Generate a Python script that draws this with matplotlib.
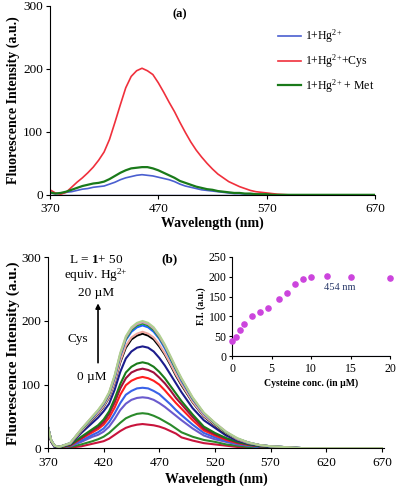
import matplotlib
matplotlib.use("Agg")
import matplotlib.pyplot as plt

plt.rcParams['font.family'] = ['Liberation Serif', 'DejaVu Serif']
plt.rcParams['mathtext.fontset'] = 'custom'
plt.rcParams['mathtext.rm'] = 'Liberation Serif'
plt.rcParams['mathtext.bf'] = 'Liberation Serif:bold'
plt.rcParams['mathtext.it'] = 'Liberation Serif:italic'

# ---- panel (a) data ----
wl_a = list(range(370, 585, 5)) + [590, 600, 620, 670]
hg = [3, 2, 2, 4, 5, 7, 9, 10, 12, 13,
      14, 17, 20, 24, 27, 29, 31, 32, 31, 30,
      28, 26, 24, 21, 17, 14, 12, 10, 8, 7,
      6, 5, 4, 3, 2, 2, 1, 1, 1, 0,
      0, 0, 0, 0, 0, 0, 0]
hg_cys = [8, 3, 1, 4, 12, 20, 27, 35, 44, 55,
          68, 88, 115, 143, 170, 188, 197, 201, 197, 191,
          178, 163, 147, 132, 115, 99, 84, 71, 60, 50,
          41, 33, 27, 21, 17, 13, 10, 7, 5, 4,
          3, 2, 1, 0, 0, 0, 0]
hg_met = [4, 2, 3, 5, 8, 11, 14, 16, 18, 19,
          21, 25, 30, 35, 39, 42, 43, 44, 44, 42,
          39, 35, 31, 27, 22, 19, 16, 13, 11, 9,
          8, 6, 5, 4, 3, 3, 2, 2, 1, 1,
          1, 0, 0, 0, 0, 0, 0]
labels_a = ['1+Hg$^{2{+}}$', '1+Hg$^{2{+}}$+Cys', '1+Hg$^{2{+}}$ + Met']
colors_a = ['#4a5fd0', '#f0303c', '#1a7a1a']

# ---- panel (b) data: titration spectra, 0 -> 20 uM Cys ----
wl_b = [370, 373, 376, 380, 390, 400, 410, 415, 420, 425, 430, 435, 440, 445,
        450, 455, 460, 465, 470, 475, 480, 485, 490, 500, 510, 520, 530, 540,
        550, 560, 570, 580, 600, 670]
spectra_b = [
    [30, 10, 2, 0, 1, 3, 7, 9, 11, 15, 21, 27, 32, 35, 37, 38, 37, 36, 34, 31, 27, 23, 17,
     12, 8, 6, 4, 2, 1, 1, 0, 0, 0, 0],
    [31, 10, 2, 0, 2, 6, 11, 14, 18, 24, 32, 40, 47, 51, 54, 55, 54, 51, 47, 42, 37, 31, 25,
     18, 13, 10, 6, 4, 2, 1, 1, 0, 0, 0],
    [31, 10, 2, 0, 3, 10, 18, 21, 26, 34, 46, 60, 70, 76, 79, 80, 79, 76, 71, 65, 58, 51, 44,
     31, 20, 14, 10, 6, 4, 2, 1, 1, 0, 0],
    [32, 11, 2, 1, 4, 12, 21, 25, 31, 41, 55, 71, 84, 90, 94, 95, 94, 90, 85, 77, 69, 60, 52,
     37, 24, 17, 11, 7, 4, 2, 1, 1, 0, 0],
    [32, 11, 3, 1, 4, 15, 25, 30, 37, 48, 64, 84, 99, 106, 110, 112, 110, 106, 100, 91, 81, 71, 62,
     44, 28, 20, 13, 8, 5, 3, 2, 1, 0, 0],
    [33, 11, 3, 1, 5, 16, 28, 33, 41, 54, 72, 94, 110, 119, 123, 125, 123, 119, 111, 102, 91, 79, 69,
     49, 31, 22, 15, 9, 6, 3, 2, 1, 0, 0],
    [33, 11, 3, 1, 5, 18, 30, 36, 45, 58, 78, 101, 119, 128, 133, 135, 133, 128, 120, 110, 98, 86, 74,
     53, 34, 24, 16, 10, 6, 3, 2, 1, 0, 0],
    [33, 12, 3, 2, 6, 24, 40, 48, 58, 70, 92, 120, 141, 152, 158, 160, 158, 152, 142, 130, 116, 102, 88,
     63, 44, 32, 20, 12, 7, 4, 2, 2, 0, 0],
    [34, 12, 4, 2, 7, 27, 45, 54, 65, 80, 104, 135, 158, 171, 177, 180, 177, 171, 160, 147, 131, 114, 99,
     72, 50, 36, 23, 14, 8, 5, 3, 2, 0, 0],
    [34, 12, 4, 2, 7, 27, 46, 55, 66, 81, 105, 137, 161, 174, 180, 183, 180, 174, 163, 149, 133, 116, 101,
     73, 51, 37, 24, 14, 8, 5, 3, 2, 0, 0],
    [34, 12, 4, 2, 8, 29, 48, 58, 69, 85, 111, 145, 170, 183, 190, 193, 190, 183, 172, 157, 140, 123, 106,
     77, 54, 39, 25, 15, 9, 5, 3, 2, 0, 0],
    [34, 12, 4, 2, 8, 29, 49, 59, 70, 86, 113, 147, 172, 186, 193, 196, 193, 186, 174, 160, 142, 124, 108,
     78, 55, 39, 25, 15, 9, 5, 3, 2, 0, 0],
    [34, 12, 4, 2, 8, 30, 50, 59, 71, 87, 114, 148, 174, 188, 195, 198, 195, 188, 176, 161, 144, 126, 109,
     79, 55, 40, 26, 15, 9, 5, 3, 2, 0, 0],
    [34, 12, 4, 2, 8, 30, 50, 60, 72, 88, 115, 150, 176, 190, 197, 200, 197, 190, 178, 163, 145, 127, 110,
     80, 56, 40, 26, 16, 9, 5, 3, 2, 0, 0],
]
colors_b = ['#c8143c', '#2a8a2a', '#6a5acd', '#3a62e8', '#ff1e1e', '#a0103c',
            '#1a7a1a', '#1c1c8c', '#000000', '#f0a8a0', '#2060ff', '#20a020',
            '#d890c8', '#b0d090']

# ---- inset data ----
cys_conc = [0, 0.5, 1, 1.5, 2.5, 3.5, 4.5, 6, 7, 8, 9, 10, 12, 15, 20]
fi_454 = [37, 48, 66, 80, 101, 110, 122, 144, 160, 182, 195, 199, 201, 200, 197]

fig = plt.figure(figsize=(3.96, 4.92), dpi=100)

def style(ax, size=9.5):
    ax.spines['top'].set_visible(False)
    ax.spines['right'].set_visible(False)
    ax.tick_params(direction='out', length=3, width=0.8, labelsize=size, pad=2)
    ax.tick_params(axis='x', pad=3)

# panel (a)
ax1 = fig.add_axes([0.126, 0.604, 0.821, 0.384])
ax1.plot([370, 670], [0, 0], color='#202a80', lw=1)
for y, lab, c in zip([hg, hg_cys, hg_met], labels_a, colors_a):
    ax1.plot(wl_a, y, color=c, lw=1.6 if c == '#1a7a1a' else 1.2, label=lab)
ax1.set_xlim(370, 670)
ax1.set_ylim(0, 300)
ax1.set_xticks([370, 470, 570, 670])
ax1.set_yticks([0, 100, 200, 300])
style(ax1)
ax1.set_xlabel('Wavelength (nm)', fontsize=10, fontweight='bold', labelpad=1)
ax1.set_ylabel('Fluorescence Intensity (a.u.)', fontsize=10, fontweight='bold', labelpad=2)
ax1.text(0.40, 0.955, '(a)', transform=ax1.transAxes, ha='center', va='center',
         fontsize=9, fontweight='bold')
ax1.legend(loc='upper right', bbox_to_anchor=(1.03, 0.94), frameon=False,
           fontsize=8.5, handlelength=2.0, handletextpad=0.3, labelspacing=0.6)

# panel (b)
ax2 = fig.add_axes([0.121, 0.089, 0.849, 0.388])
for y, c in zip(spectra_b, colors_b):
    ax2.plot(wl_b, y, color=c, lw=1.5)
ax2.set_xlim(370, 672)
ax2.set_ylim(0, 300)
ax2.set_xticks(range(370, 671, 50))
ax2.set_yticks([0, 100, 200, 300])
style(ax2)
ax2.set_xlabel('Wavelength (nm)', fontsize=10, fontweight='bold', labelpad=3)
ax2.set_ylabel('Fluorescence Intensity (a.u.)', fontsize=11, fontweight='bold', labelpad=1)
ax2.text(413, 296, 'L = $\\mathbf{1}$+ 50', ha='center', va='center', fontsize=9.5)
ax2.text(413, 272, 'equiv. Hg$^{2{+}}$', ha='center', va='center', fontsize=9.5)
ax2.text(413, 244, '20 \u00b5M', ha='center', va='center', fontsize=9.5)
ax2.annotate('', xy=(415, 232), xytext=(415, 130),
             arrowprops=dict(arrowstyle='-|>', color='black', lw=1.2, mutation_scale=7))
ax2.text(397, 171, 'Cys', ha='center', va='center', fontsize=9.5)
ax2.text(409, 112, '0 \u00b5M', ha='center', va='center', fontsize=9.5)
ax2.text(0.363, 0.99, '(b)', transform=ax2.transAxes, ha='center', va='center',
         fontsize=9.5, fontweight='bold')

# inset
ax3 = fig.add_axes([0.586, 0.276, 0.399, 0.202])
ax3.plot([0, 20], [0, 0], color='#3050c0', lw=0.8)
ax3.scatter(cys_conc, fi_454, s=14, color='#cc44dd', zorder=3, clip_on=False)
ax3.set_xlim(0, 20)
ax3.set_ylim(0, 250)
ax3.set_xticks([0, 5, 10, 15, 20])
ax3.set_yticks(range(0, 251, 50))
style(ax3, 8.5)
ax3.tick_params(length=2)
ax3.set_xlabel('Cysteine conc. (in \u00b5M)', fontsize=7, fontweight='bold', labelpad=2)
ax3.set_ylabel('F.I. (a.u.)', fontsize=7, fontweight='bold', labelpad=2)
ax3.text(13.6, 172, '454 nm', ha='center', va='center', fontsize=7.5, color='#2a3a6a')

fig.savefig('out.png', dpi=100)
